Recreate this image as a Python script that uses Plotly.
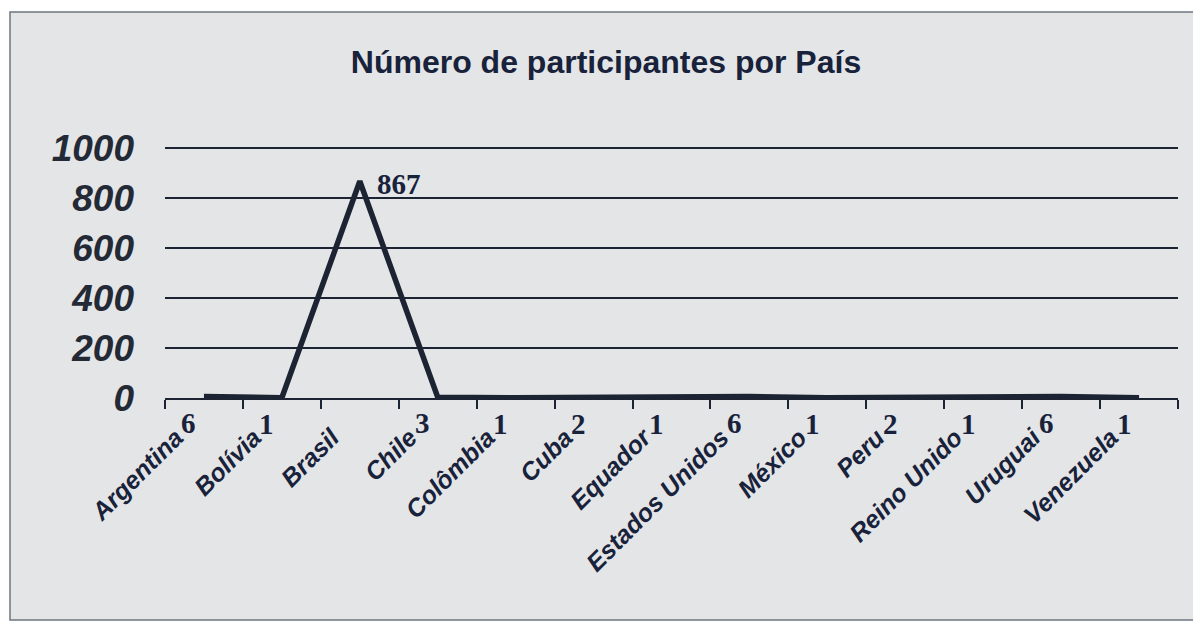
import plotly.graph_objects as go

paises = ["Argentina", "Bolívia", "Brasil", "Chile", "Colômbia", "Cuba", "Equador",
          "Estados Unidos", "México", "Peru", "Reino Unido", "Uruguai", "Venezuela"]
participantes = [6, 1, 867, 3, 1, 2, 1, 6, 1, 2, 1, 6, 1]
y_ticks = [0, 200, 400, 600, 800, 1000]
titulo = "Número de participantes por País"

OFF = 8  # default page body margin
Y_TOP = 1012
W, H = 1201 - OFF, 622 - OFF
# plot area in window pixels: x 165..1178, y (398 - 250*Y_TOP/1000)..398
top_px = 398 - 250 * Y_TOP / 1000
L = 165 - OFF
R = W - (1178 - OFF)
T = round(top_px) - OFF
B = H - (398 - OFF)
pw, ph = W - L - R, H - T - B

def px2x(px):
    return (px - OFF - L) / pw

def py2y(py):
    return (H - B - (py - OFF)) / ph

dark = "#1c2433"
navy = "#18223a"

fig = go.Figure()
fig.add_trace(go.Scatter(
    x=paises, y=participantes, mode="lines",
    line=dict(color=dark, width=5.5),
    cliponaxis=False, showlegend=False, hoverinfo="x+y",
))

for pais, v in zip(paises, participantes):
    big = v > 100
    fig.add_annotation(
        x=pais, y=v, text=str(v), showarrow=False,
        xanchor="left" if big else "center", yanchor="middle",
        xshift=15 if big else -15, yshift=-3 if big else -26,
        font=dict(family="Liberation Serif", size=29, color=navy, weight="bold"),
    )

fig.add_shape(type="rect", xref="paper", yref="paper", layer="below",
              x0=px2x(10), x1=px2x(1215), y0=py2y(620), y1=py2y(12),
              fillcolor="#e4e5e7", line=dict(color="#6f7580", width=1.5))

fig.update_layout(
    width=W, height=H,
    margin=dict(l=L, r=R, t=T, b=B),
    paper_bgcolor="white", plot_bgcolor="rgba(0,0,0,0)",
    title=dict(text=titulo, x=(606 - OFF) / W, xanchor="center",
               y=1 - (62 - OFF) / H, yanchor="middle",
               font=dict(family="Liberation Sans", size=32, color=navy, weight="bold")),
    xaxis=dict(
        type="category", tickson="boundaries", ticks="outside", ticklen=9, tickwidth=1.5,
        tickcolor=dark, showline=True, linecolor=dark, linewidth=2, showgrid=False,
        tickangle=-45, automargin=False, ticklabelstandoff=13, ticklabelshift=-28,
        tickfont=dict(family="Liberation Sans", size=25, color=navy, weight="bold", style="italic"),
        range=[-0.5, len(paises) - 0.5],
    ),
    yaxis=dict(
        range=[0, Y_TOP], tickvals=y_ticks, showgrid=True, gridcolor=dark, gridwidth=2,
        zeroline=False, showline=False, ticks="", ticklabelstandoff=30, automargin=False,
        tickfont=dict(family="Liberation Sans", size=37, color="#232a36", weight="bold", style="italic"),
    ),
)

fig.write_html("out.html")
